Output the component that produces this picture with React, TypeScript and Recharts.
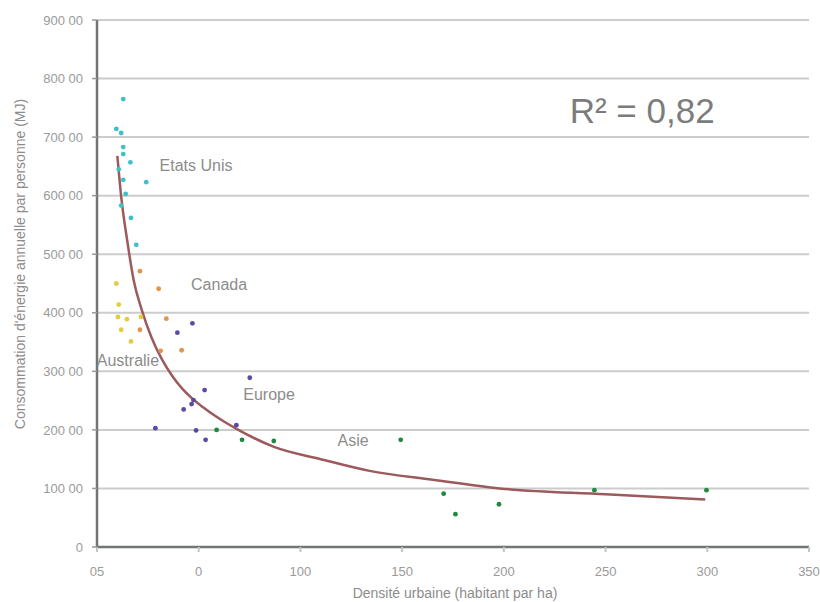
import { ComposedChart, Scatter, Line, XAxis, YAxis, CartesianGrid, ReferenceDot, Label } from 'recharts';

type Pt = { x: number; y: number };

// density (habitants / ha) vs energy consumption
const etatsUnis: Pt[] = [
  { x: 12.9, y: 765 }, { x: 9.5, y: 714 }, { x: 11.9, y: 707 }, { x: 12.9, y: 683 },
  { x: 12.9, y: 671 }, { x: 16.4, y: 657 }, { x: 10.7, y: 645 }, { x: 12.9, y: 627 },
  { x: 24.2, y: 623 }, { x: 14.1, y: 603 }, { x: 11.9, y: 583 }, { x: 16.7, y: 562 },
  { x: 19.3, y: 516 },
];
const canada: Pt[] = [
  { x: 21.1, y: 471 }, { x: 30.3, y: 441 }, { x: 34.1, y: 390 }, { x: 21.1, y: 371 },
  { x: 31.3, y: 335 }, { x: 41.6, y: 336 },
];
const australie: Pt[] = [
  { x: 9.5, y: 450 }, { x: 10.7, y: 414 }, { x: 10.3, y: 393 }, { x: 14.7, y: 389 },
  { x: 21.6, y: 393 }, { x: 11.9, y: 371 }, { x: 16.7, y: 351 },
];
const europe: Pt[] = [
  { x: 46.9, y: 382 }, { x: 39.5, y: 366 }, { x: 75.1, y: 289 }, { x: 52.9, y: 268 },
  { x: 47.4, y: 251 }, { x: 46.5, y: 244 }, { x: 42.6, y: 235 }, { x: 28.7, y: 203 },
  { x: 68.5, y: 208 }, { x: 48.7, y: 199 }, { x: 53.4, y: 183 },
];
const asie: Pt[] = [
  { x: 58.8, y: 200 }, { x: 71.3, y: 183 }, { x: 86.9, y: 181 }, { x: 149.3, y: 183 },
  { x: 170.4, y: 91 }, { x: 176.2, y: 56 }, { x: 197.6, y: 73 }, { x: 244.5, y: 97 },
  { x: 299.6, y: 97 },
];
const tendance: Pt[] = [
  { x: 10, y: 668 }, { x: 12, y: 595 }, { x: 15, y: 520 }, { x: 18, y: 456 },
  { x: 22, y: 405 }, { x: 27, y: 356 }, { x: 32, y: 320 }, { x: 37, y: 292 },
  { x: 42, y: 270 }, { x: 47, y: 253 }, { x: 52, y: 239 }, { x: 58, y: 224 },
  { x: 63, y: 213 }, { x: 69, y: 201 }, { x: 87, y: 171 }, { x: 110, y: 150 },
  { x: 134, y: 130 }, { x: 165, y: 115 }, { x: 198, y: 100 }, { x: 250, y: 90 },
  { x: 299, y: 81 },
];

const xTicks = [0, 50, 100, 150, 200, 250, 300, 350];
const xTickLabels = ['05', '0', '100', '150', '200', '250', '300', '350'];
const yTicks = [0, 100, 200, 300, 400, 500, 600, 700, 800, 900];

const font = '"Liberation Sans", Arial, sans-serif';
const txt = '#8c8c8c';

const dot = (color: string) => (props: any) =>
  <circle cx={props.cx} cy={props.cy} r={2.4} fill={color} />;

const note = (value: string, size = 16, fill = txt) => ({
  value, position: 'center' as const, fill, fontSize: size, fontFamily: font,
});

export default function App() {
  return (
    <div style={{ position: 'absolute', left: 0, top: 0, background: '#fff' }}>
      <ComposedChart width={820} height={602} margin={{ top: 20, right: 11, left: 0, bottom: 0 }}>
        <CartesianGrid vertical={false} stroke="#cccccc" strokeWidth={2} />
        <XAxis
          type="number"
          dataKey="x"
          domain={[0, 350]}
          ticks={xTicks}
          height={55}
          tickFormatter={(v, i) => xTickLabels[i] ?? String(v)}
          axisLine={{ stroke: '#6f7673', strokeWidth: 2.5 }}
          tickLine={{ stroke: '#c4c4c4', strokeWidth: 2 }}
          tickSize={5}
          tickMargin={15}
          tick={{ fill: '#9a9a9a', fontSize: 13, fontFamily: font }}
        >
          <Label
            content={() => (
              <text x={455} y={598} textAnchor="middle" fill={txt} fontSize={14} fontFamily={font}>
                Densité urbaine (habitant par ha)
              </text>
            )}
          />
        </XAxis>
        <YAxis
          type="number"
          dataKey="y"
          domain={[0, 900]}
          ticks={yTicks}
          width={97}
          tickFormatter={(v) => (v === 0 ? '0' : `${v} 00`)}
          axisLine={{ stroke: '#6f7673', strokeWidth: 2.5 }}
          tickLine={{ stroke: '#9a9a9a', strokeWidth: 1.5 }}
          tickSize={5}
          tickMargin={9}
          tick={{ fill: '#9a9a9a', fontSize: 13, fontFamily: font }}
        >
          <Label
            content={() => (
              <text x={25} y={264} transform="rotate(-90 25 264)" textAnchor="middle" fill={txt} fontSize={14} fontFamily={font}>
                Consommation d'énergie annuelle par personne (MJ)
              </text>
            )}
          />
        </YAxis>
        <Line data={tendance} dataKey="y" type="monotone" stroke="#9c5a5c" strokeWidth={2.5} dot={false} isAnimationActive={false} />
        <Scatter data={etatsUnis} fill="#3fbfca" shape={dot('#3fbfca')} isAnimationActive={false} />
        <Scatter data={canada} fill="#e0954a" shape={dot('#e0954a')} isAnimationActive={false} />
        <Scatter data={australie} fill="#e2cb3c" shape={dot('#e2cb3c')} isAnimationActive={false} />
        <Scatter data={europe} fill="#5a4aa2" shape={dot('#5a4aa2')} isAnimationActive={false} />
        <Scatter data={asie} fill="#1d8a3e" shape={dot('#1d8a3e')} isAnimationActive={false} />
        <ReferenceDot x={48.7} y={651} r={0} fill="none" stroke="none" label={note('Etats Unis')} />
        <ReferenceDot x={60} y={449} r={0} fill="none" stroke="none" label={note('Canada')} />
        <ReferenceDot x={15.2} y={318} r={0} fill="none" stroke="none" label={note('Australie')} />
        <ReferenceDot x={84.6} y={260} r={0} fill="none" stroke="none" label={note('Europe')} />
        <ReferenceDot x={125.9} y={183} r={0} fill="none" stroke="none" label={note('Asie')} />
        <ReferenceDot x={268} y={745} r={0} fill="none" stroke="none" label={note('R² = 0,82', 35, '#7c7c7c')} />
      </ComposedChart>
    </div>
  );
}
